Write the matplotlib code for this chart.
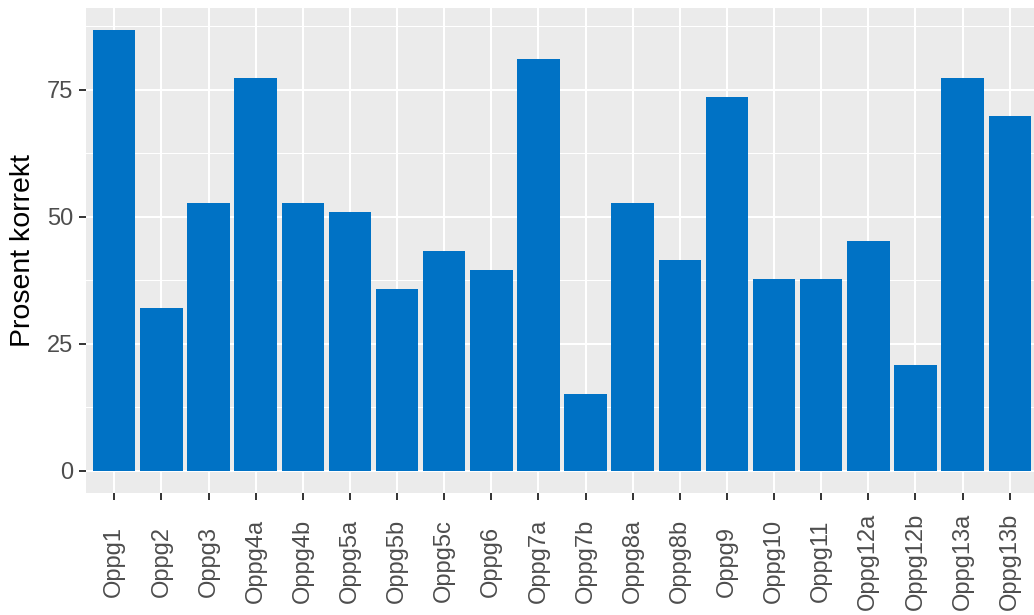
#import necessary libraries
import numpy as np
import matplotlib.pyplot as plt
from matplotlib.ticker import MultipleLocator

#categories and percent correct per task
tasks = ['Oppg1', 'Oppg2', 'Oppg3', 'Oppg4a', 'Oppg4b', 'Oppg5a', 'Oppg5b', 'Oppg5c',
         'Oppg6', 'Oppg7a', 'Oppg7b', 'Oppg8a', 'Oppg8b', 'Oppg9', 'Oppg10', 'Oppg11',
         'Oppg12a', 'Oppg12b', 'Oppg13a', 'Oppg13b']
percent = [86.8, 32.1, 52.8, 77.4, 52.8, 50.9, 35.8, 43.4, 39.6, 81.1,
           15.1, 52.8, 41.5, 73.6, 37.7, 37.7, 45.3, 20.8, 77.4, 69.8]
y_ticks = [0, 25, 50, 75]

plt.rcParams['font.family'] = ['Liberation Sans', 'DejaVu Sans']

W, H = 1034, 615
fig = plt.figure(figsize=(W / 100, H / 100), dpi=100)
#panel box in pixels: left 86, right 1038, top 8, bottom 493
ax = fig.add_axes([86 / W, (H - 493) / H, (1038 - 86) / W, (493 - 8) / H])
ax.set_facecolor('#EBEBEB')

x = np.arange(len(tasks))
ax.bar(x, percent, width=0.9, color='#0072C5', zorder=3)

#ggplot-like expansion
ymax = max(percent)
ax.set_ylim(-0.05 * ymax, 1.05 * ymax)
ax.set_xlim(-0.6, len(tasks) - 0.4)

ax.set_yticks(y_ticks)
ax.yaxis.set_minor_locator(MultipleLocator(12.5))
ax.set_xticks(x)
ax.set_xticklabels(tasks, rotation=90, ha='center', va='center')

ax.grid(which='major', color='white', linewidth=1.5, zorder=1)
ax.grid(which='minor', axis='y', color='white', linewidth=0.75, zorder=1)
ax.set_axisbelow(True)
for s in ax.spines.values():
    s.set_visible(False)

ax.tick_params(axis='both', which='major', length=5, width=1.4, color='#333333',
               labelcolor='#4D4D4D', labelsize=17)
ax.tick_params(axis='y', which='major', pad=4.3)
ax.tick_params(axis='x', which='major', pad=44)
ax.tick_params(axis='y', which='minor', length=0)

ax.set_ylabel('Prosent korrekt', fontsize=20.5, color='black', labelpad=8)

fig.savefig('out.png', dpi=100)
